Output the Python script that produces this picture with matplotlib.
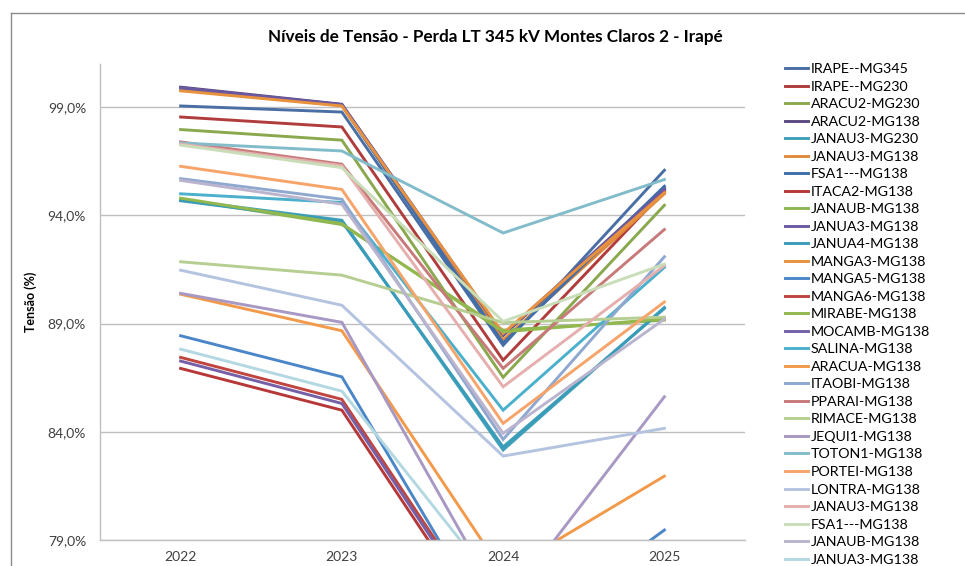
import matplotlib
matplotlib.use("Agg")
import matplotlib.pyplot as plt
from matplotlib.lines import Line2D
from matplotlib.ticker import FuncFormatter, FixedLocator

plt.rcParams['font.family'] = ['Lato', 'DejaVu Sans']

years = ["2022", "2023", "2024", "2025"]

labels = [
    "IRAPE--MG345", "IRAPE--MG230", "ARACU2-MG230", "ARACU2-MG138",
    "JANAU3-MG230", "JANAU3-MG138", "FSA1---MG138", "ITACA2-MG138",
    "JANAUB-MG138", "JANUA3-MG138", "JANUA4-MG138", "MANGA3-MG138",
    "MANGA5-MG138", "MANGA6-MG138", "MIRABE-MG138", "MOCAMB-MG138",
    "SALINA-MG138", "ARACUA-MG138", "ITAOBI-MG138", "PPARAI-MG138",
    "RIMACE-MG138", "JEQUI1-MG138", "TOTON1-MG138", "PORTEI-MG138",
    "LONTRA-MG138", "JANAU3-MG138", "FSA1---MG138", "JANAUB-MG138",
    "JANUA3-MG138",
]

# Voltage (%) per bus for 2022..2025
irape_345 = [99.06, 98.78, 88.00, 96.09]
irape_230 = [98.55, 98.09, 87.31, 95.13]
aracu2_230 = [97.97, 97.48, 86.52, 94.47]
aracu2_138 = [99.93, 99.14, 88.45, 95.26]
janau3_230 = [94.72, 93.78, 83.16, 89.75]
janau3_138 = [99.80, 99.08, 88.24, 95.00]
fsa1_138 = [99.88, 99.10, 88.10, 95.35]
itaca2_138 = [86.93, 85.00, 73.80, 76.20]
janaub_138 = [94.76, 93.58, 88.70, 89.16]
janua3_138 = [99.90, 99.12, 88.50, 95.20]
janua4_138 = [94.68, 93.72, 83.30, 89.70]
manga3_138 = [99.76, 99.06, 88.55, 95.05]
manga5_138 = [88.44, 86.54, 74.00, 79.46]
manga6_138 = [87.44, 85.50, 74.30, 76.50]
mirabe_138 = [94.80, 93.62, 88.62, 89.22]
mocamb_138 = [87.27, 85.31, 74.10, 76.30]
salina_138 = [95.00, 94.60, 85.00, 91.60]
aracua_138 = [90.36, 88.67, 77.50, 81.95]
itaobi_138 = [95.70, 94.75, 83.65, 92.09]
pparai_138 = [97.40, 96.37, 86.93, 93.35]
rimace_138 = [91.86, 91.24, 89.05, 89.30]
jequi1_138 = [90.40, 89.06, 75.90, 85.62]
toton1_138 = [97.35, 96.98, 93.19, 95.66]
portei_138 = [96.27, 95.20, 84.39, 90.00]
lontra_138 = [91.47, 89.85, 82.88, 84.16]
janau3_138b = [97.30, 96.30, 86.08, 91.68]
fsa1_138b = [97.25, 96.21, 89.10, 91.75]
janaub_138b = [95.62, 94.52, 83.93, 89.21]
janua3_138b = [87.82, 85.88, 76.50, 77.00]

series = [
    irape_345, irape_230, aracu2_230, aracu2_138, janau3_230, janau3_138,
    fsa1_138, itaca2_138, janaub_138, janua3_138, janua4_138, manga3_138,
    manga5_138, manga6_138, mirabe_138, mocamb_138, salina_138, aracua_138,
    itaobi_138, pparai_138, rimace_138, jequi1_138, toton1_138, portei_138,
    lontra_138, janau3_138b, fsa1_138b, janaub_138b, janua3_138b,
]

colors = [
    "#4A6FA5", "#B03C3C", "#8AA84E", "#5A4A80", "#3FA0BA", "#E08A3C",
    "#3F6EAA", "#B73838", "#8DB752", "#6C58A0", "#3A9CB8", "#E9923E",
    "#4A86C8", "#C0453F", "#92B84E", "#7560A8", "#4AB0CC", "#F29A4A",
    "#8FA8D0", "#C87A7A", "#B6CE92", "#A898C4", "#82BCCB", "#F7A46A",
    "#B4C3E0", "#E4AFAD", "#C9DDB8", "#BAB4CE", "#B3D8E2",
]

W, H = 965, 566
fig = plt.figure(figsize=(W / 100, H / 100), dpi=100)

# chart area frame (left and top edges)
fig.add_artist(Line2D([11 / W, 11 / W], [0, 1 - 13 / H], color="#8C8C8C", lw=1.0,
                      transform=fig.transFigure))
fig.add_artist(Line2D([11 / W, 1], [1 - 13 / H, 1 - 13 / H], color="#8C8C8C", lw=1.0,
                      transform=fig.transFigure))

ax = fig.add_axes([100 / W, 1 - 540 / H, (745 - 100) / W, (540 - 64) / H])

x = list(range(len(years)))
for lab, vals, col in zip(labels, series, colors):
    ax.plot(x, vals, color=col, lw=2.1, label=lab, solid_joinstyle="miter")

ax.set_xlim(-0.5, len(years) - 0.5)
ax.set_ylim(79, 101)
ax.yaxis.set_major_locator(FixedLocator([79, 84, 89, 94, 99]))
ax.yaxis.set_major_formatter(FuncFormatter(lambda v, p: f"{v:.1f}%".replace(".", ",")))
ax.set_xticks(x)
ax.set_xticklabels(years)

ax.grid(axis="y", color="#BFBFBF", lw=1.0)
ax.set_axisbelow(True)
for side in ["top", "right"]:
    ax.spines[side].set_visible(False)
for side in ["left", "bottom"]:
    ax.spines[side].set_color("#BFBFBF")
    ax.spines[side].set_linewidth(1.0)
ax.tick_params(axis="both", length=0, labelsize=10, colors="#404040", pad=10)
ax.tick_params(axis="x", pad=8)

ax.set_ylabel("Tensão (%)", fontsize=9, fontweight="bold", color="#000000")
ax.yaxis.set_label_coords((37 - 100) / 645, 0.5)

fig.text(495 / W, 1 - 37 / H, "Níveis de Tensão - Perda LT 345 kV Montes Claros 2 - Irapé",
         ha="center", va="center", fontsize=12.3, fontweight="bold", color="#000000")

handles, labs = ax.get_legend_handles_labels()
leg = fig.legend(handles, labs, loc="upper left", bbox_to_anchor=(785 / W, 1 - 63 / H),
                 frameon=False, fontsize=10.3, handlelength=1.6, handletextpad=0.2,
                 labelspacing=0.385, borderaxespad=0, borderpad=0)
for t in leg.get_texts():
    t.set_color("#000000")

fig.savefig("out.png", dpi=100)
